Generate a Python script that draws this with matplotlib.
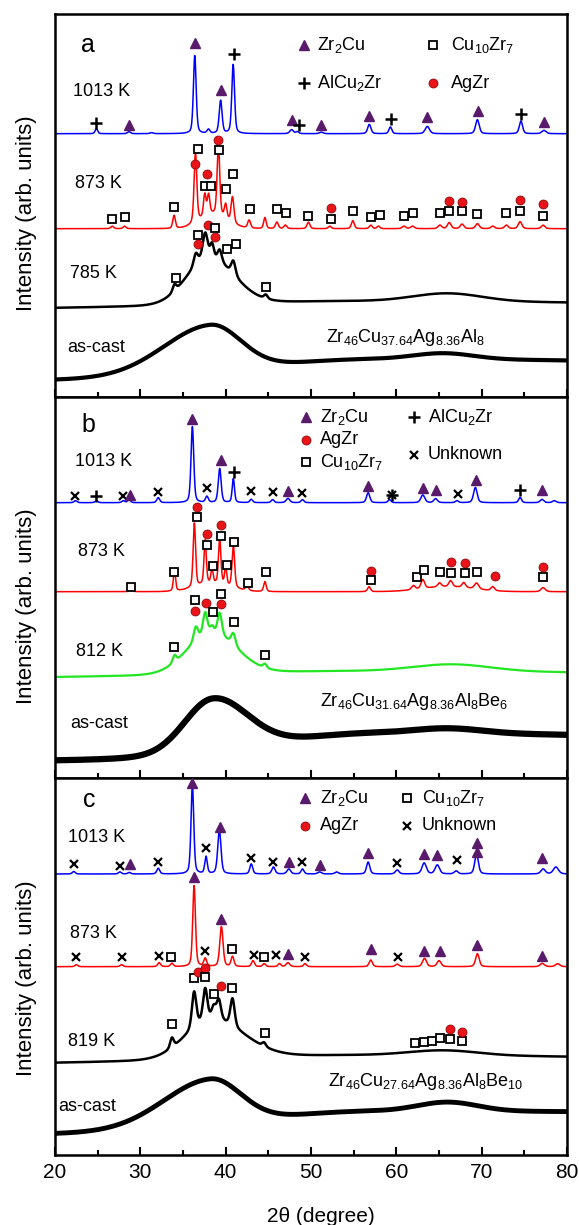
import numpy as np
import matplotlib.pyplot as plt

plt.rcParams['font.family'] = ['Liberation Sans', 'DejaVu Sans']
plt.rcParams['mathtext.fontset'] = 'custom'
plt.rcParams['mathtext.rm'] = 'Liberation Sans'
plt.rcParams['mathtext.it'] = 'Liberation Sans:italic'

# each trace: baseline level, halos (centre, height, sigma_left, sigma_right),
# peaks (2theta, height, fwhm), phase marks (kind, 2theta, height)

# ---- panel a : Zr46Cu37.64Ag8.36Al8
a1013_base = 263.3
a1013_peaks = [(24.85, 5, 0.35), (28.67, 2, 0.4), (31.3, 1, 0.4), (36.38, 78, 0.38), (37.98, 4, 0.4),
               (39.41, 33, 0.4), (40.88, 69, 0.38), (47.73, 4, 0.5), (48.4, 2, 0.4), (51.2, 1.5, 0.5),
               (56.83, 9.3, 0.45), (59.3, 6.7, 0.4), (63.63, 7.3, 0.6), (69.5, 14, 0.5), (74.6, 12.7, 0.45),
               (77.3, 3.3, 0.6)]
a1013_marks = [('P', 24.85, 274), ('T', 28.67, 271.7), ('T', 36.38, 354), ('T', 39.41, 306.7), ('P', 41.0, 343.3),
               ('T', 47.8, 276.7), ('P', 48.6, 271.7), ('T', 51.2, 271.7), ('T', 56.83, 281), ('P', 59.34, 277.7),
               ('T', 63.63, 280), ('T', 69.52, 285.7), ('P', 74.6, 283.3), ('T', 77.32, 275)]

a873_base = 168.3
a873_halos = [(38.6, 14, 1.6, 1.6)]
a873_peaks = [(26.7, 2.5, 0.4), (28.15, 2.5, 0.4), (33.95, 13, 0.35), (36.46, 70, 0.38), (37.55, 22, 0.35),
              (38.0, 20, 0.35), (39.15, 72, 0.36), (40.0, 14, 0.35), (40.8, 26, 0.4), (42.75, 8, 0.4),
              (44.6, 11, 0.35), (46.0, 6.5, 0.4), (47.0, 3.5, 0.4), (49.7, 6.5, 0.4), (52.2, 2.5, 0.4),
              (54.9, 8, 0.4), (57.0, 3.5, 0.4), (57.9, 2.5, 0.4), (60.9, 2.5, 0.5), (61.9, 2.5, 0.5),
              (65.1, 3.5, 0.5), (66.2, 6, 0.5), (67.7, 4.5, 0.5), (69.5, 5, 0.5), (71.3, 2.5, 0.5),
              (72.9, 3.5, 0.5), (74.5, 7, 0.5), (77.2, 3.5, 0.5)]
a873_marks = [('S', 26.7, 177.7), ('S', 28.2, 180), ('S', 33.95, 190), ('C', 36.46, 233.3), ('S', 36.8, 248.3),
              ('C', 37.76, 222.7), ('S', 37.6, 211.3), ('S', 38.3, 211.3), ('C', 39.15, 256.7), ('S', 39.24, 246.7),
              ('S', 40.0, 208), ('S', 40.9, 223.3), ('S', 42.8, 187.7), ('S', 46.0, 187.7), ('S', 47.1, 184.3),
              ('S', 49.7, 180.7), ('C', 52.3, 189.3), ('S', 52.3, 177.7), ('S', 54.9, 185.7), ('S', 57.0, 180),
              ('S', 58.1, 182.3), ('S', 60.9, 180.7), ('S', 62.0, 184.3), ('S', 65.06, 184.3), ('S', 66.2, 185.7),
              ('C', 66.2, 196), ('S', 67.75, 185.7), ('C', 67.75, 195), ('S', 69.5, 182.7), ('S', 72.86, 184.3),
              ('S', 74.5, 186), ('C', 74.5, 197.3), ('S', 77.2, 181), ('C', 77.2, 192.7)]

a785_base = 88
a785_halos = [(38.0, 45, 2.6, 3.0), (55, 8, 18, 40), (66, 8, 4, 4)]
a785_peaks = [(34.0, 7, 0.5), (36.5, 12, 0.6), (37.6, 26, 0.7), (38.4, 14, 0.5), (39.3, 12, 0.6),
              (40.9, 14, 0.6), (44.7, 4, 0.5)]
a785_marks = [('S', 34.2, 119.3), ('S', 36.7, 161.7), ('C', 36.7, 152.7), ('C', 37.9, 171.7), ('S', 38.7, 169),
              ('C', 38.7, 160), ('S', 40.1, 148.3), ('S', 41.2, 153.3), ('S', 44.7, 110)]

acast_base = 16
acast_halos = [(38.2, 46, 5.5, 3.5), (58, 22, 16, 60), (65.5, 6, 3.5, 3.5)]

# ---- panel b : Zr46Cu31.64Ag8.36Al8Be6
b1013_base = 275.3
b1013_peaks = [(22.4, 2, 0.4), (24.85, 2, 0.4), (28.0, 2, 0.4), (28.67, 3, 0.4), (32.1, 5, 0.4), (36.1, 76, 0.38),
               (37.8, 6, 0.4), (39.3, 34, 0.4), (40.9, 24, 0.32), (43.0, 3.3, 0.4), (45.5, 3, 0.4), (47.3, 4.3, 0.5),
               (49.0, 3, 0.4), (56.7, 10, 0.45), (59.2, 3, 0.4), (63.1, 7.7, 0.55), (64.6, 4, 0.5), (67.1, 2, 0.4),
               (69.26, 15.3, 0.5), (74.5, 5.3, 0.4), (77.06, 3.3, 0.5), (78.5, 2, 0.5)]
b1013_marks = [('X', 22.4, 282.3), ('P', 24.85, 282), ('X', 28.0, 282.3), ('T', 28.8, 283), ('X', 32.1, 286.3),
               ('T', 36.1, 358.7), ('X', 37.8, 289.7), ('T', 39.4, 318), ('P', 41.0, 306.3), ('X', 43.0, 287.3),
               ('X', 45.6, 285.7), ('T', 47.3, 287.3), ('X', 49.0, 284.7), ('T', 56.7, 292.3), ('P', 59.5, 283),
               ('X', 59.5, 283), ('T', 63.1, 289.7), ('T', 64.6, 288), ('X', 67.2, 283.7), ('T', 69.3, 298),
               ('P', 74.5, 288), ('T', 77.06, 288)]

b873_base = 186.3
b873_halos = [(38.5, 8, 2, 2), (66, 5, 3, 3)]
b873_peaks = [(28.9, 3, 0.4), (34.0, 21, 0.3), (36.33, 64, 0.34), (37.6, 44, 0.32), (38.4, 14, 0.3),
              (39.3, 45, 0.34), (40.0, 17, 0.3), (40.9, 42, 0.36), (42.5, 5, 0.4), (44.6, 10, 0.35),
              (56.8, 5, 0.4), (62.0, 4, 0.5), (63.1, 9, 0.5), (65.06, 4, 0.5), (66.36, 6, 0.5),
              (67.9, 5, 0.5), (69.4, 6, 0.6), (71.3, 4, 0.5), (77.2, 4, 0.6)]
b873_marks = [('S', 28.9, 191.3), ('S', 34.0, 206.3), ('C', 36.6, 270.7), ('S', 36.6, 261.3), ('C', 37.76, 244),
              ('S', 37.76, 233), ('C', 39.4, 253), ('S', 39.4, 242), ('S', 38.5, 212), ('S', 40.15, 213),
              ('S', 41.0, 236.3), ('S', 42.6, 195.3), ('S', 44.7, 206.3), ('C', 57.0, 207.3), ('S', 57.0, 198),
              ('S', 62.46, 201.3), ('S', 63.3, 208), ('S', 65.06, 206.3), ('C', 66.36, 216.3), ('S', 66.36, 205.3),
              ('C', 68.1, 214.7), ('S', 68.1, 204.7), ('S', 69.5, 205.7), ('C', 71.56, 202), ('C', 77.2, 211.3),
              ('S', 77.2, 201.3)]

b812_base = 100
b812_halos = [(38.3, 40, 2.8, 3.0), (55, 7, 18, 40), (66.5, 7, 4.5, 4.5)]
b812_peaks = [(34.0, 7, 0.5), (36.5, 14, 0.6), (37.6, 22, 0.6), (38.4, 6, 0.5), (39.3, 22, 0.6),
              (40.9, 12, 0.6), (44.6, 4, 0.5)]
b812_marks = [('S', 34.0, 131.3), ('S', 36.46, 178), ('C', 36.46, 167.3), ('C', 37.68, 174.7), ('S', 38.5, 166.3),
              ('S', 39.4, 184), ('C', 39.4, 173.7), ('S', 40.93, 156.3), ('S', 44.57, 123)]

bcast_base = 17
bcast_halos = [(38.5, 52, 3.3, 4.0), (58, 28, 14, 60), (66, 5, 4, 4)]

# ---- panel c : Zr46Cu27.64Ag8.36Al8Be10
c1013_base = 281
c1013_peaks = [(22.2, 2.5, 0.4), (27.6, 2, 0.4), (28.7, 1.5, 0.4), (32.1, 5.7, 0.4), (36.1, 89, 0.38),
               (37.7, 17, 0.35), (39.26, 44, 0.45), (43.0, 10, 0.4), (45.6, 7, 0.45), (47.4, 5, 0.5),
               (49.0, 5, 0.4), (51.0, 2, 0.5), (53.0, 2, 0.5), (56.7, 12, 0.45), (60.1, 4, 0.5),
               (63.26, 11, 0.6), (64.8, 9, 0.6), (67.0, 3, 0.5), (69.4, 20, 0.5), (77.2, 5, 0.6), (78.7, 7, 0.7)]
c1013_marks = [('X', 22.2, 291), ('X', 27.6, 289.3), ('T', 28.8, 291), ('X', 32.1, 293.3), ('T', 36.1, 371.7),
               ('X', 37.7, 306.7), ('T', 39.3, 328.3), ('X', 43.0, 296.7), ('X', 45.6, 293.3), ('T', 47.4, 293.3),
               ('X', 49.0, 292.7), ('T', 51.0, 290), ('T', 56.7, 301.7), ('X', 60.1, 292.3), ('T', 63.26, 300.7),
               ('T', 64.8, 300), ('X', 67.1, 295), ('T', 69.4, 311.7), ('T', 69.4, 303.3), ('T', 77.1, 296.7)]

c873_base = 188.3
c873_peaks = [(22.5, 2, 0.4), (27.8, 2, 0.4), (32.2, 4, 0.4), (33.7, 3.3, 0.4), (36.3, 81, 0.38),
              (37.6, 8, 0.4), (39.5, 40, 0.45), (40.8, 10, 0.4), (43.2, 6, 0.4), (44.5, 3, 0.4),
              (46.3, 3, 0.4), (47.3, 4, 0.5), (49.3, 3, 0.4), (57.0, 6.7, 0.45), (60.1, 2.5, 0.5),
              (63.3, 8.3, 0.55), (65.0, 6, 0.55), (69.5, 13, 0.5), (77.1, 3.3, 0.6), (78.9, 3, 0.6)]
c873_marks = [('X', 22.5, 197.7), ('X', 27.8, 197.7), ('X', 32.2, 199.3), ('S', 33.6, 197.7), ('T', 36.3, 278.3),
              ('X', 37.6, 204.3), ('T', 39.5, 236), ('S', 40.8, 205.7), ('X', 43.3, 200), ('S', 44.5, 197.7),
              ('X', 45.9, 200), ('T', 47.3, 200.7), ('X', 49.3, 197.7), ('T', 57.0, 206), ('X', 60.2, 197.7),
              ('T', 63.3, 204.3), ('T', 65.06, 204.3), ('T', 69.4, 210), ('T', 77.1, 199)]

c819_base = 91
c819_halos = [(38.3, 38, 3.0, 3.8), (55, 9, 18, 40), (65.5, 5, 4, 4)]
c819_peaks = [(33.7, 10, 0.5), (36.3, 36, 0.6), (37.6, 32, 0.6), (38.6, 12, 0.6), (39.2, 20, 0.6),
              (40.8, 28, 0.6), (44.5, 4, 0.5)]
c819_marks = [('S', 33.7, 131), ('S', 36.3, 176.7), ('C', 36.7, 183.3), ('C', 37.6, 187.3), ('S', 37.6, 178.3),
              ('S', 38.6, 160.7), ('C', 39.4, 169.3), ('S', 40.8, 166.7), ('S', 44.6, 121.7), ('S', 62.2, 112.3),
              ('S', 63.2, 113.3), ('S', 64.2, 114.3), ('S', 65.1, 116.7), ('S', 66.3, 115.7), ('S', 67.7, 114.3),
              ('C', 66.3, 125.7), ('C', 67.7, 123.3)]

ccast_base = 20
ccast_halos = [(38.2, 45, 5.5, 3.5), (58, 24, 16, 100), (66, 9, 3.5, 3.5)]


tt = np.linspace(20, 80, 3001)


def pattern(base, halos=(), peaks=()):
    y = np.full_like(tt, base, dtype=float)
    for c, h, sl, sr in halos:
        s = np.where(tt < c, sl, sr)
        y += h * np.exp(-(tt - c) ** 2 / (2 * s ** 2))
    for c, h, w in peaks:
        g = np.exp(-4 * np.log(2) * ((tt - c) / w) ** 2)
        l = 1 / (1 + 4 * ((tt - c) / w) ** 2)
        y += h * (0.6 * g + 0.4 * l)
    return y


PURPLE = '#5a1a6b'
style = {
    'T': dict(marker='^', color=PURPLE, ms=6.5, mec=PURPLE, ls='none'),
    'S': dict(marker='s', mfc='white', mec='black', ms=5.5, mew=1.3, ls='none'),
    'C': dict(marker='o', color='#e8141a', mec='#800000', ms=6.5, mew=0.5, ls='none'),
    'P': dict(marker='+', color='black', ms=8, mew=1.8, ls='none'),
    'X': dict(marker='x', color='black', ms=6, mew=1.6, ls='none'),
}


def marks(ax, lst):
    for kind, x, y in lst:
        ax.plot(x, y, clip_on=False, zorder=5, **style[kind])


fig = plt.figure(figsize=(5.79, 12.25), dpi=100)
W, H = 579, 1225
panels = [(14, 397), (397, 778), (778, 1155)]
axes = []
for top, bot in panels:
    ax = fig.add_axes([55 / W, 1 - bot / H, 512 / W, (bot - top) / H])
    ax.set_xlim(20, 80)
    ax.set_ylim(0, bot - top)
    ax.set_yticks([])
    ax.set_xticks(np.arange(20, 81, 10))
    ax.set_xticks(np.arange(25, 80, 10), minor=True)
    ax.tick_params(axis='x', which='major', direction='in', length=6, width=1.5, labelsize=15, pad=6)
    ax.tick_params(axis='x', which='minor', direction='in', length=3.5, width=1.5)
    for s in ax.spines.values():
        s.set_linewidth(1.8)
    axes.append(ax)
ax_a, ax_b, ax_c = axes
ax_a.tick_params(labelbottom=False)
ax_b.tick_params(labelbottom=False)

# panel a
ax_a.plot(tt, pattern(a1013_base, peaks=a1013_peaks), color='#0000ff', lw=1.1)
ax_a.plot(tt, pattern(a873_base, a873_halos, a873_peaks), color='#ff0000', lw=1.1)
ax_a.plot(tt, pattern(a785_base, a785_halos, a785_peaks), color='black', lw=1.8)
ax_a.plot(tt, pattern(acast_base, acast_halos), color='black', lw=3.0)
marks(ax_a, a1013_marks)
marks(ax_a, a873_marks)
marks(ax_a, a785_marks)

# panel b
ax_b.plot(tt, pattern(b1013_base, peaks=b1013_peaks), color='#0000ff', lw=1.1)
ax_b.plot(tt, pattern(b873_base, b873_halos, b873_peaks), color='#ff0000', lw=1.1)
ax_b.plot(tt, pattern(b812_base, b812_halos, b812_peaks), color='#22e622', lw=1.6)
ax_b.plot(tt, pattern(bcast_base, bcast_halos), color='black', lw=4.5)
marks(ax_b, b1013_marks)
marks(ax_b, b873_marks)
marks(ax_b, b812_marks)

# panel c
ax_c.plot(tt, pattern(c1013_base, peaks=c1013_peaks), color='#0000ff', lw=1.1)
ax_c.plot(tt, pattern(c873_base, peaks=c873_peaks), color='#ff0000', lw=1.1)
ax_c.plot(tt, pattern(c819_base, c819_halos, c819_peaks), color='black', lw=1.8)
ax_c.plot(tt, pattern(ccast_base, ccast_halos), color='black', lw=3.5)
marks(ax_c, c1013_marks)
marks(ax_c, c873_marks)
marks(ax_c, c819_marks)

fs = 13
# panel labels and temperatures
ax_a.text(23.9, 352, 'a', fontsize=18, ha='center', va='center')
ax_a.text(22.1, 305, '1013 K', fontsize=fs, va='center')
ax_a.text(22.3, 214, '873 K', fontsize=fs, va='center')
ax_a.text(21.8, 123, '785 K', fontsize=fs, va='center')
ax_a.text(21.4, 50, 'as-cast', fontsize=fs, va='center')
ax_a.text(51.8, 59, r'Zr$_{46}$Cu$_{37.64}$Ag$_{8.36}$Al$_{8}$', fontsize=fs, va='center')

ax_b.text(23.9, 353, 'b', fontsize=18, ha='center', va='center')
ax_b.text(22.3, 316, '1013 K', fontsize=fs, va='center')
ax_b.text(22.7, 226, '873 K', fontsize=fs, va='center')
ax_b.text(22.5, 126, '812 K', fontsize=fs, va='center')
ax_b.text(21.8, 55, 'as-cast', fontsize=fs, va='center')
ax_b.text(51.1, 76, r'Zr$_{46}$Cu$_{31.64}$Ag$_{8.36}$Al$_{8}$Be$_{6}$', fontsize=fs, va='center')

ax_c.text(24.0, 355, 'c', fontsize=18, ha='center', va='center')
ax_c.text(21.5, 318, '1013 K', fontsize=fs, va='center')
ax_c.text(21.7, 221.7, '873 K', fontsize=fs, va='center')
ax_c.text(21.5, 113.3, '819 K', fontsize=fs, va='center')
ax_c.text(20.4, 48.3, 'as-cast', fontsize=fs, va='center')
ax_c.text(52.0, 73.3, r'Zr$_{46}$Cu$_{27.64}$Ag$_{8.36}$Al$_{8}$Be$_{10}$', fontsize=fs, va='center')

# phase keys
a_key = [('T', 49.2, 352, r'Zr$_2$Cu', 50.7), ('S', 64.3, 352, r'Cu$_{10}$Zr$_7$', 66.4),
         ('P', 49.2, 314, r'AlCu$_2$Zr', 50.7), ('C', 64.3, 314, 'AgZr', 66.4)]
b_key = [('T', 49.4, 361.3, r'Zr$_2$Cu', 51.1), ('C', 49.4, 338, 'AgZr', 51.1),
         ('S', 49.4, 316.3, r'Cu$_{10}$Zr$_7$', 51.1), ('P', 62.1, 361.3, r'AlCu$_2$Zr', 63.7),
         ('X', 62.1, 323, 'Unknown', 63.7)]
c_key = [('T', 49.3, 356.7, r'Zr$_2$Cu', 51.1), ('S', 61.25, 356.7, r'Cu$_{10}$Zr$_7$', 62.95),
         ('C', 49.3, 329.3, 'AgZr', 51.1), ('X', 61.25, 329.3, 'Unknown', 62.95)]
for ax, key in [(ax_a, a_key), (ax_b, b_key), (ax_c, c_key)]:
    for kind, mx, my, lab, tx in key:
        ax.plot(mx, my, **style[kind])
        ax.text(tx, my, lab, fontsize=fs, va='center')

for ax, yc in [(ax_a, 0.48), (ax_b, 0.451), (ax_c, 0.468)]:
    ax.text(-0.0547, yc, 'Intensity (arb. units)', transform=ax.transAxes, rotation=90,
            ha='center', va='center', fontsize=16)

fig.text(321 / W, 1 - 1217 / H, '2θ (degree)', ha='center', va='center', fontsize=15)

fig.savefig('out.png', dpi=100)
